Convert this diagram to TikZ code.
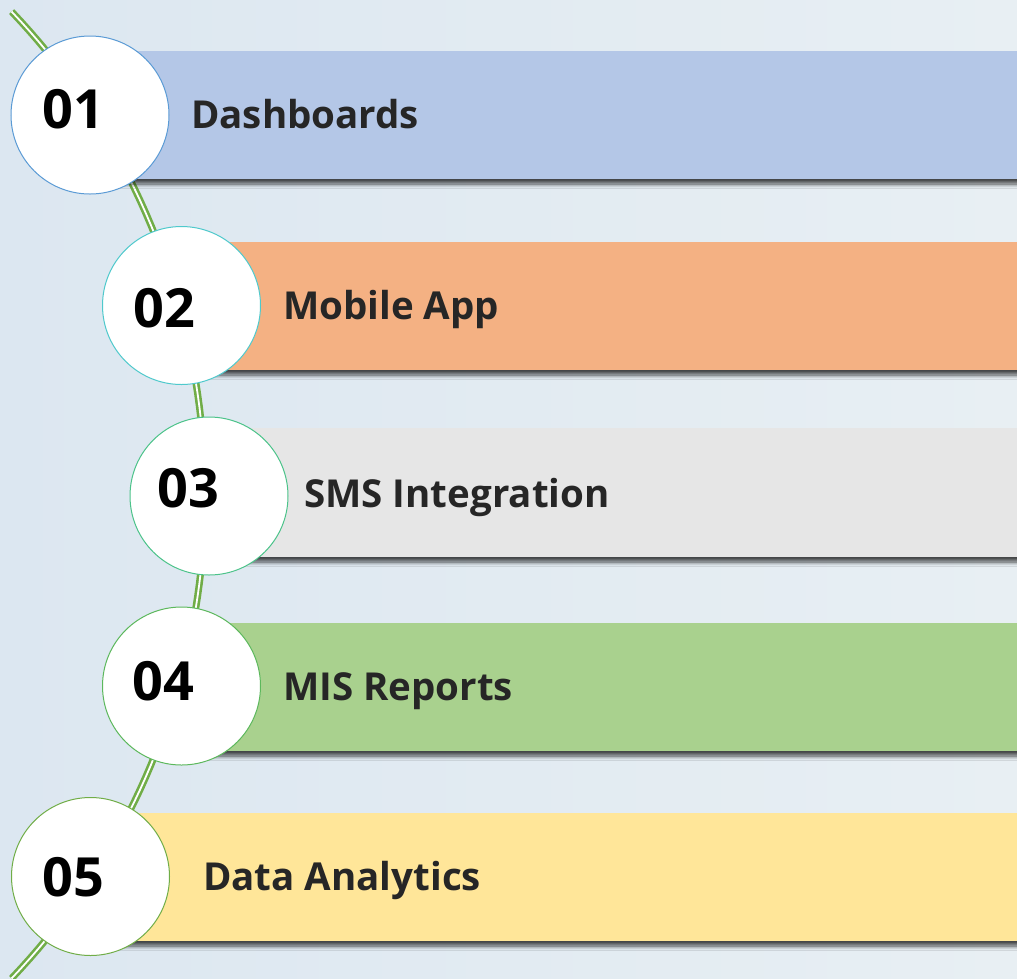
\documentclass[tikz,border=0pt]{standalone}
\usepackage{fontspec}
\setmainfont{Open Sans}
\usetikzlibrary{shadows.blur}
\definecolor{bgL}{HTML}{DCE7F1}
\definecolor{bgR}{HTML}{E8EFF3}
\definecolor{lineG}{HTML}{70AD47}
\definecolor{barA}{HTML}{B4C7E7}
\definecolor{barB}{HTML}{F4B183}
\definecolor{barC}{HTML}{E6E6E6}
\definecolor{barD}{HTML}{A9D18E}
\definecolor{barE}{HTML}{FFE699}
\definecolor{cirA}{HTML}{5B9BD5}
\definecolor{cirB}{HTML}{4FC9CC}
\definecolor{cirC}{HTML}{4CC38A}
\definecolor{cirD}{HTML}{5CB85C}
\definecolor{cirE}{HTML}{70AD47}
\definecolor{txt}{HTML}{262626}
\begin{document}
\begin{tikzpicture}[x=1pt,y=-1pt,
  barbox/.style={draw=none, blur shadow={shadow xshift=0pt, shadow yshift=-5pt, shadow blur radius=4pt, shadow blur steps=8, shadow opacity=70}},
  numcircle/.style={circle, fill=white, draw, line width=1pt, minimum size=158pt, inner sep=0pt},
  numtext/.style={anchor=base west, inner sep=0pt, font=\fontsize{54}{54}\selectfont\bfseries, text=black},
  labtext/.style={anchor=base west, inner sep=0pt, font=\fontsize{38.5}{38.5}\selectfont\bfseries, text=txt},
  spine/.style={draw=lineG, double=white, double distance=1.8pt, line width=2.6pt}
]
\useasboundingbox (0,0) rectangle (1017,978);
\fill[left color=bgL, right color=bgR] (0,0) rectangle (1017,978);
% spine
\draw[spine] plot[domain=-43.6:43.6, samples=80] ({-496+701*cos(\x)}, {495+701*sin(\x)});
% bars
\fill[barA, barbox] (90,51) rectangle (1040,179);
\fill[barB, barbox] (181,242) rectangle (1040,370);
\fill[barC, barbox] (209,428) rectangle (1040,557);
\fill[barD, barbox] (181,623) rectangle (1040,751);
\fill[barE, barbox] (90,813) rectangle (1040,941);
% circles
\node[numcircle, draw=cirA] (c1) at (90,115) {};
\node[numcircle, draw=cirB] (c2) at (181.5,305.5) {};
\node[numcircle, draw=cirC] (c3) at (209,496) {};
\node[numcircle, draw=cirD] (c4) at (181.5,686) {};
\node[numcircle, draw=cirE] (c5) at (90.5,876.5) {};
% numbers
\node[numtext] (n1) at (42,128) {01};
\node[numtext] (n2) at (133,327) {02};
\node[numtext] (n3) at (157,507) {03};
\node[numtext] (n4) at (132,700) {04};
\node[numtext] (n5) at (42,896) {05};
% labels
\node[labtext] (l1) at (191,128) {Dashboards};
\node[labtext] (l2) at (283,319) {Mobile App};
\node[labtext] (l3) at (304,507) {SMS Integration};
\node[labtext] (l4) at (283,700) {MIS Reports};
\node[labtext] (l5) at (203,890) {Data Analytics};
\end{tikzpicture}
\end{document}
